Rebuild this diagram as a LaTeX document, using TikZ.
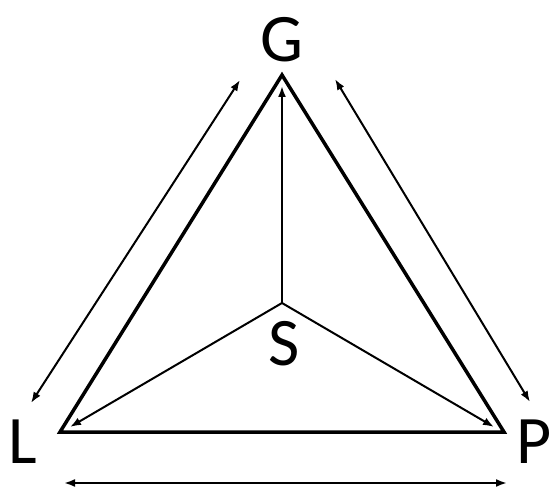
\documentclass[tikz,border=0pt]{standalone}
\usepackage{fontspec}
\setmainfont{Carlito}
\usetikzlibrary{arrows.meta}
\begin{document}
\begin{tikzpicture}[x=1pt,y=-1pt,
  lbl/.style={font=\fontsize{68}{68}\selectfont, inner sep=0pt, anchor=center},
  tri/.style={line width=3.5pt, line join=miter},
  arr/.style={line width=2pt, -{Latex[length=11pt,width=8pt]}},
  darr/.style={line width=2pt, {Latex[length=11pt,width=8pt]}-{Latex[length=11pt,width=8pt]}}]
\useasboundingbox (0,0) rectangle (552,487);
\coordinate (gv) at (282,75);
\coordinate (lv) at (60,432);
\coordinate (pv) at (504,432);
\coordinate (sv) at (282,303);
\node[lbl] (G) at (282,40) {G};
\node[lbl] (L) at (23,442) {L};
\node[lbl] (P) at (534,442) {P};
\node[lbl] (S) at (284,344) {S};
\draw[tri] (gv) -- (lv) -- (pv) -- cycle;
\coordinate (sg) at (282,86);
\coordinate (sl) at (70,427);
\coordinate (sp) at (494,427);
\draw[arr] (sv) -- (sg);
\draw[arr] (sv) -- (sl);
\draw[arr] (sv) -- (sp);
\coordinate (la) at (240,80);
\coordinate (lb) at (31,403);
\coordinate (ra) at (335,79);
\coordinate (rb) at (530,402);
\coordinate (ba) at (64,483);
\coordinate (bb) at (507,483);
\draw[darr] (la) -- (lb);
\draw[darr] (ra) -- (rb);
\draw[darr] (ba) -- (bb);
\end{tikzpicture}
\end{document}
